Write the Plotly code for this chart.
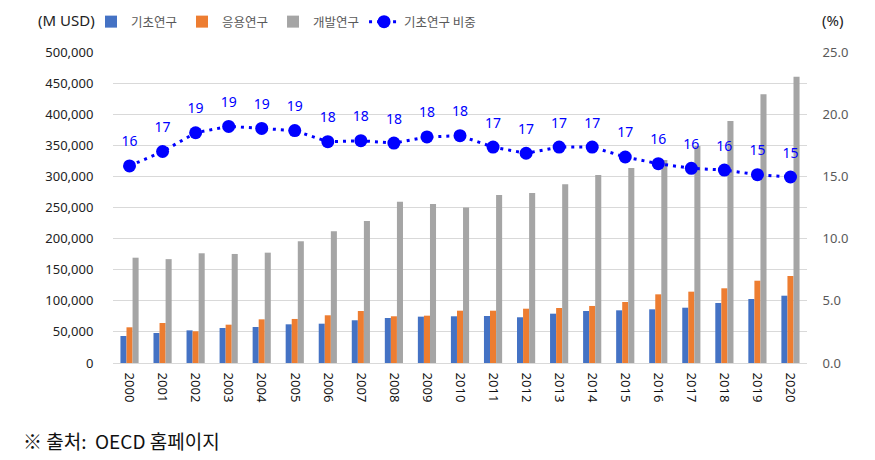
import plotly.graph_objects as go

years = [str(y) for y in range(2000, 2021)]
basic = [43400, 48200, 52500, 56300, 57900, 62200, 63200, 68700, 72400, 74500, 75100,
         75600, 73500, 79300, 83600, 84700, 86300, 88900, 96500, 102900, 108200]
applied = [57400, 64300, 51000, 61600, 70200, 70800, 76700, 83600, 75100, 76100, 84100,
           84100, 87300, 88400, 91700, 98100, 110400, 114700, 120100, 132300, 139900]
development = [169300, 167000, 176400, 175300, 177400, 195700, 212000, 228300, 259400, 255700, 249800,
               270000, 273400, 287300, 302300, 313600, 326400, 349000, 389000, 432000, 460400]
basic_share = [15.84, 17.0, 18.51, 19.02, 18.86, 18.68, 17.79, 17.87, 17.68, 18.17, 18.27,
               17.36, 16.86, 17.36, 17.36, 16.56, 16.02, 15.65, 15.51, 15.14, 14.95]

names = ["기초연구", "응용연구", "개발연구", "기초연구 비중"]
colors = ["#4472C4", "#ED7D31", "#A5A5A5", "#0000FF"]

FONT = "Noto Sans, Noto Sans CJK KR, sans-serif"
KFONT = "Noto Sans CJK KR, Noto Sans, sans-serif"

W, H = 875, 460
OFF = 8  # page body margin
# desired plot area in page pixels: x 113..807, y 52..363
L = 113 - OFF
T = 52 - OFF
R = W - (807 - OFF)
B = H - (363 - OFF)
PW, PH = W - L - R, H - T - B


def px(x):
    return (x - OFF - L) / PW


def py(y):
    return (H - B - (y - OFF)) / PH


fig = go.Figure()
for vals, nm, col in zip([basic, applied, development], names[:3], colors[:3]):
    fig.add_trace(go.Bar(x=years, y=vals, name=nm, marker=dict(color=col, line=dict(width=0)),
                         yaxis="y"))

fig.add_trace(go.Scatter(x=years, y=basic_share, name=names[3], yaxis="y2",
                         mode="lines+markers",
                         line=dict(color=colors[3], width=3, dash="3px,5px"),
                         marker=dict(color=colors[3], size=13)))
# data labels (transparent markers give the label offset)
fig.add_trace(go.Scatter(x=years, y=basic_share, yaxis="y2", mode="markers+text",
                         marker=dict(color="rgba(0,0,0,0)", size=24),
                         text=[f"{v:.0f}" for v in basic_share], textposition="top center",
                         textfont=dict(color="#0000FF", size=14, family=FONT),
                         showlegend=False, hoverinfo="skip"))

fig.update_layout(
    width=W, height=H,
    margin=dict(l=L, r=R, t=T, b=B, autoexpand=False),
    paper_bgcolor="white", plot_bgcolor="white",
    barmode="group", bargap=0.45, bargroupgap=0,
    font=dict(family=FONT, size=13, color="#222222"),
    xaxis=dict(type="category", range=[-0.5, 20.5], tickangle=90, showgrid=False,
               showline=True, linecolor="#D9D9D9", linewidth=1, automargin=False,
               ticks="outside", ticklen=6, tickcolor="rgba(0,0,0,0)",
               tickfont=dict(size=13, color="#111111", family=FONT)),
    yaxis=dict(range=[0, 500000], dtick=50000, tickformat=",", showgrid=True,
               gridcolor="#D9D9D9", gridwidth=1, zeroline=False, automargin=False,
               ticks="outside", ticklen=16, tickcolor="rgba(0,0,0,0)",
               tickfont=dict(size=13, color="#222222", family=FONT)),
    yaxis2=dict(range=[0, 25], dtick=5, tickformat=".1f", overlaying="y", side="right",
                showgrid=False, zeroline=False, automargin=False,
                ticks="outside", ticklen=12, tickcolor="rgba(0,0,0,0)",
                tickfont=dict(size=13, color="#595959", family=FONT)),
    legend=dict(orientation="h", x=px(91), xanchor="left", y=py(22), yanchor="middle",
                font=dict(size=12.5, color="#595959", family=KFONT),
                itemwidth=30, bgcolor="rgba(0,0,0,0)", tracegroupgap=0),
    showlegend=True,
    annotations=[
        dict(text="(M USD)", xref="paper", yref="paper", x=px(66), y=py(20),
             xanchor="center", yanchor="middle", showarrow=False,
             font=dict(size=15, color="#222222", family=FONT)),
        dict(text="(%)", xref="paper", yref="paper", x=px(832), y=py(20),
             xanchor="center", yanchor="middle", showarrow=False,
             font=dict(size=15, color="#222222", family=FONT)),
        dict(text="※ 출처:  OECD 홈페이지", xref="paper", yref="paper", x=px(21),
             y=py(440), xanchor="left", yanchor="middle", showarrow=False,
             font=dict(size=19, color="#111111", family=KFONT)),
    ],
)

fig.write_html("out.html")
